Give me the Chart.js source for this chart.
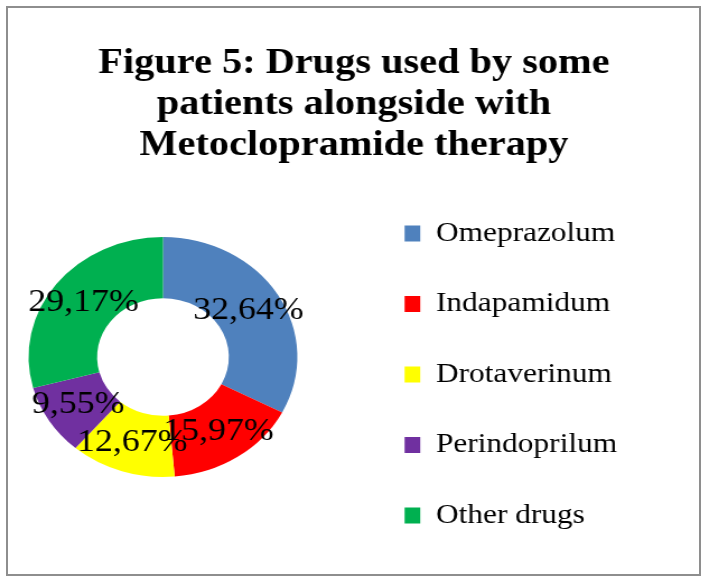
<!DOCTYPE html>
<html>
<head>
<meta charset="utf-8">
<title>Figure 5</title>
<script src="https://cdn.jsdelivr.net/npm/chart.js@4.4.1/dist/chart.umd.min.js"></script>
<style>
  html, body { margin: 0; background: #fff; }
  #frame  { position: relative; width: 708px; height: 584px; overflow: hidden; }
  #border { position: absolute; left: 6px; top: 6px; width: 695px; height: 570px;
            box-sizing: border-box; border: 2px solid #8e8e8e; }
  /* the original picture is stretched ~12% horizontally, so is this one */
  #wrap   { position: absolute; left: 0; top: 0; width: 632px; height: 584px;
            transform: scaleX(1.12); transform-origin: 0 0; }
</style>
</head>
<body>
<div id="frame">
  <div id="border"></div>
  <div id="wrap"><canvas id="drugsChart"></canvas></div>
</div>
<script>
/* Figure 5 — drugs taken alongside metoclopramide (doughnut) */

const TITLE_LINES = ["Figure 5: Drugs used by some", "patients alongside with", "Metoclopramide therapy"];
const DRUGS  = ["Omeprazolum", "Indapamidum", "Drotaverinum", "Perindoprilum", "Other drugs"];
const SHARES = [32.64, 15.97, 12.67, 9.55, 29.17];
const COLORS = ["#4F81BD", "#FF0000", "#FFFF00", "#7030A0", "#00B050"];

const SERIF = "'Liberation Serif', 'Times New Roman', serif";

// ring position in canvas px (before the x-stretch)
const RING_CX = 145.5, RING_CY = 357, RING_R = 120;

/* ── Helpers ───────────────────────────────────────────── */
function fmtPct(v) {
  return v.toFixed(2).replace(".", ",") + "%";
}

/* ── Plugins ───────────────────────────────────────────── */
// Excel put the ring off-centre in its plot area, so pin it after layout
const placeRing = {
  id: "placeRing",
  afterLayout(chart) {
    Object.assign(chart.chartArea, {
      left: RING_CX - RING_R, right: RING_CX + RING_R,
      top: RING_CY - RING_R, bottom: RING_CY + RING_R,
      width: RING_R * 2, height: RING_R * 2,
    });
  },
};

// percentage labels in the middle of each slice
const sliceLabels = {
  id: "sliceLabels",
  afterDatasetsDraw(chart) {
    const { ctx } = chart;
    const meta = chart.getDatasetMeta(0);
    ctx.save();
    ctx.font = `32px ${SERIF}`;
    ctx.fillStyle = "#000";
    ctx.textAlign = "center";
    ctx.textBaseline = "middle";
    meta.data.forEach((arc, i) => {
      const p = arc.tooltipPosition();
      ctx.fillText(fmtPct(SHARES[i]), p.x, p.y);
    });
    ctx.restore();
  },
};

/* ── Chart ─────────────────────────────────────────────── */
new Chart(document.getElementById("drugsChart"), {
  type: "doughnut",
  data: {
    labels: DRUGS,
    datasets: [{
      data: SHARES,
      backgroundColor: COLORS,
      borderWidth: 0,
    }],
  },
  options: {
    responsive: true,
    maintainAspectRatio: false,
    animation: false,
    cutout: "49%",
    layout: { padding: { left: 71, right: 71 } },
    plugins: {
      title: {
        display: true,
        text: TITLE_LINES,
        color: "#000",
        font: { family: SERIF, size: 36, weight: "bold", lineHeight: "41px" },
        padding: { top: 43.5, bottom: 10.5 },
      },
      legend: {
        position: "right",
        align: "start",
        fullSize: false,
        labels: {
          color: "#000",
          font: { family: SERIF, size: 28 },
          boxWidth: 14,
          boxHeight: 16,
          padding: 42.5,
        },
      },
      tooltip: { enabled: false },
    },
  },
  plugins: [placeRing, sliceLabels],
});
</script>
</body>
</html>
